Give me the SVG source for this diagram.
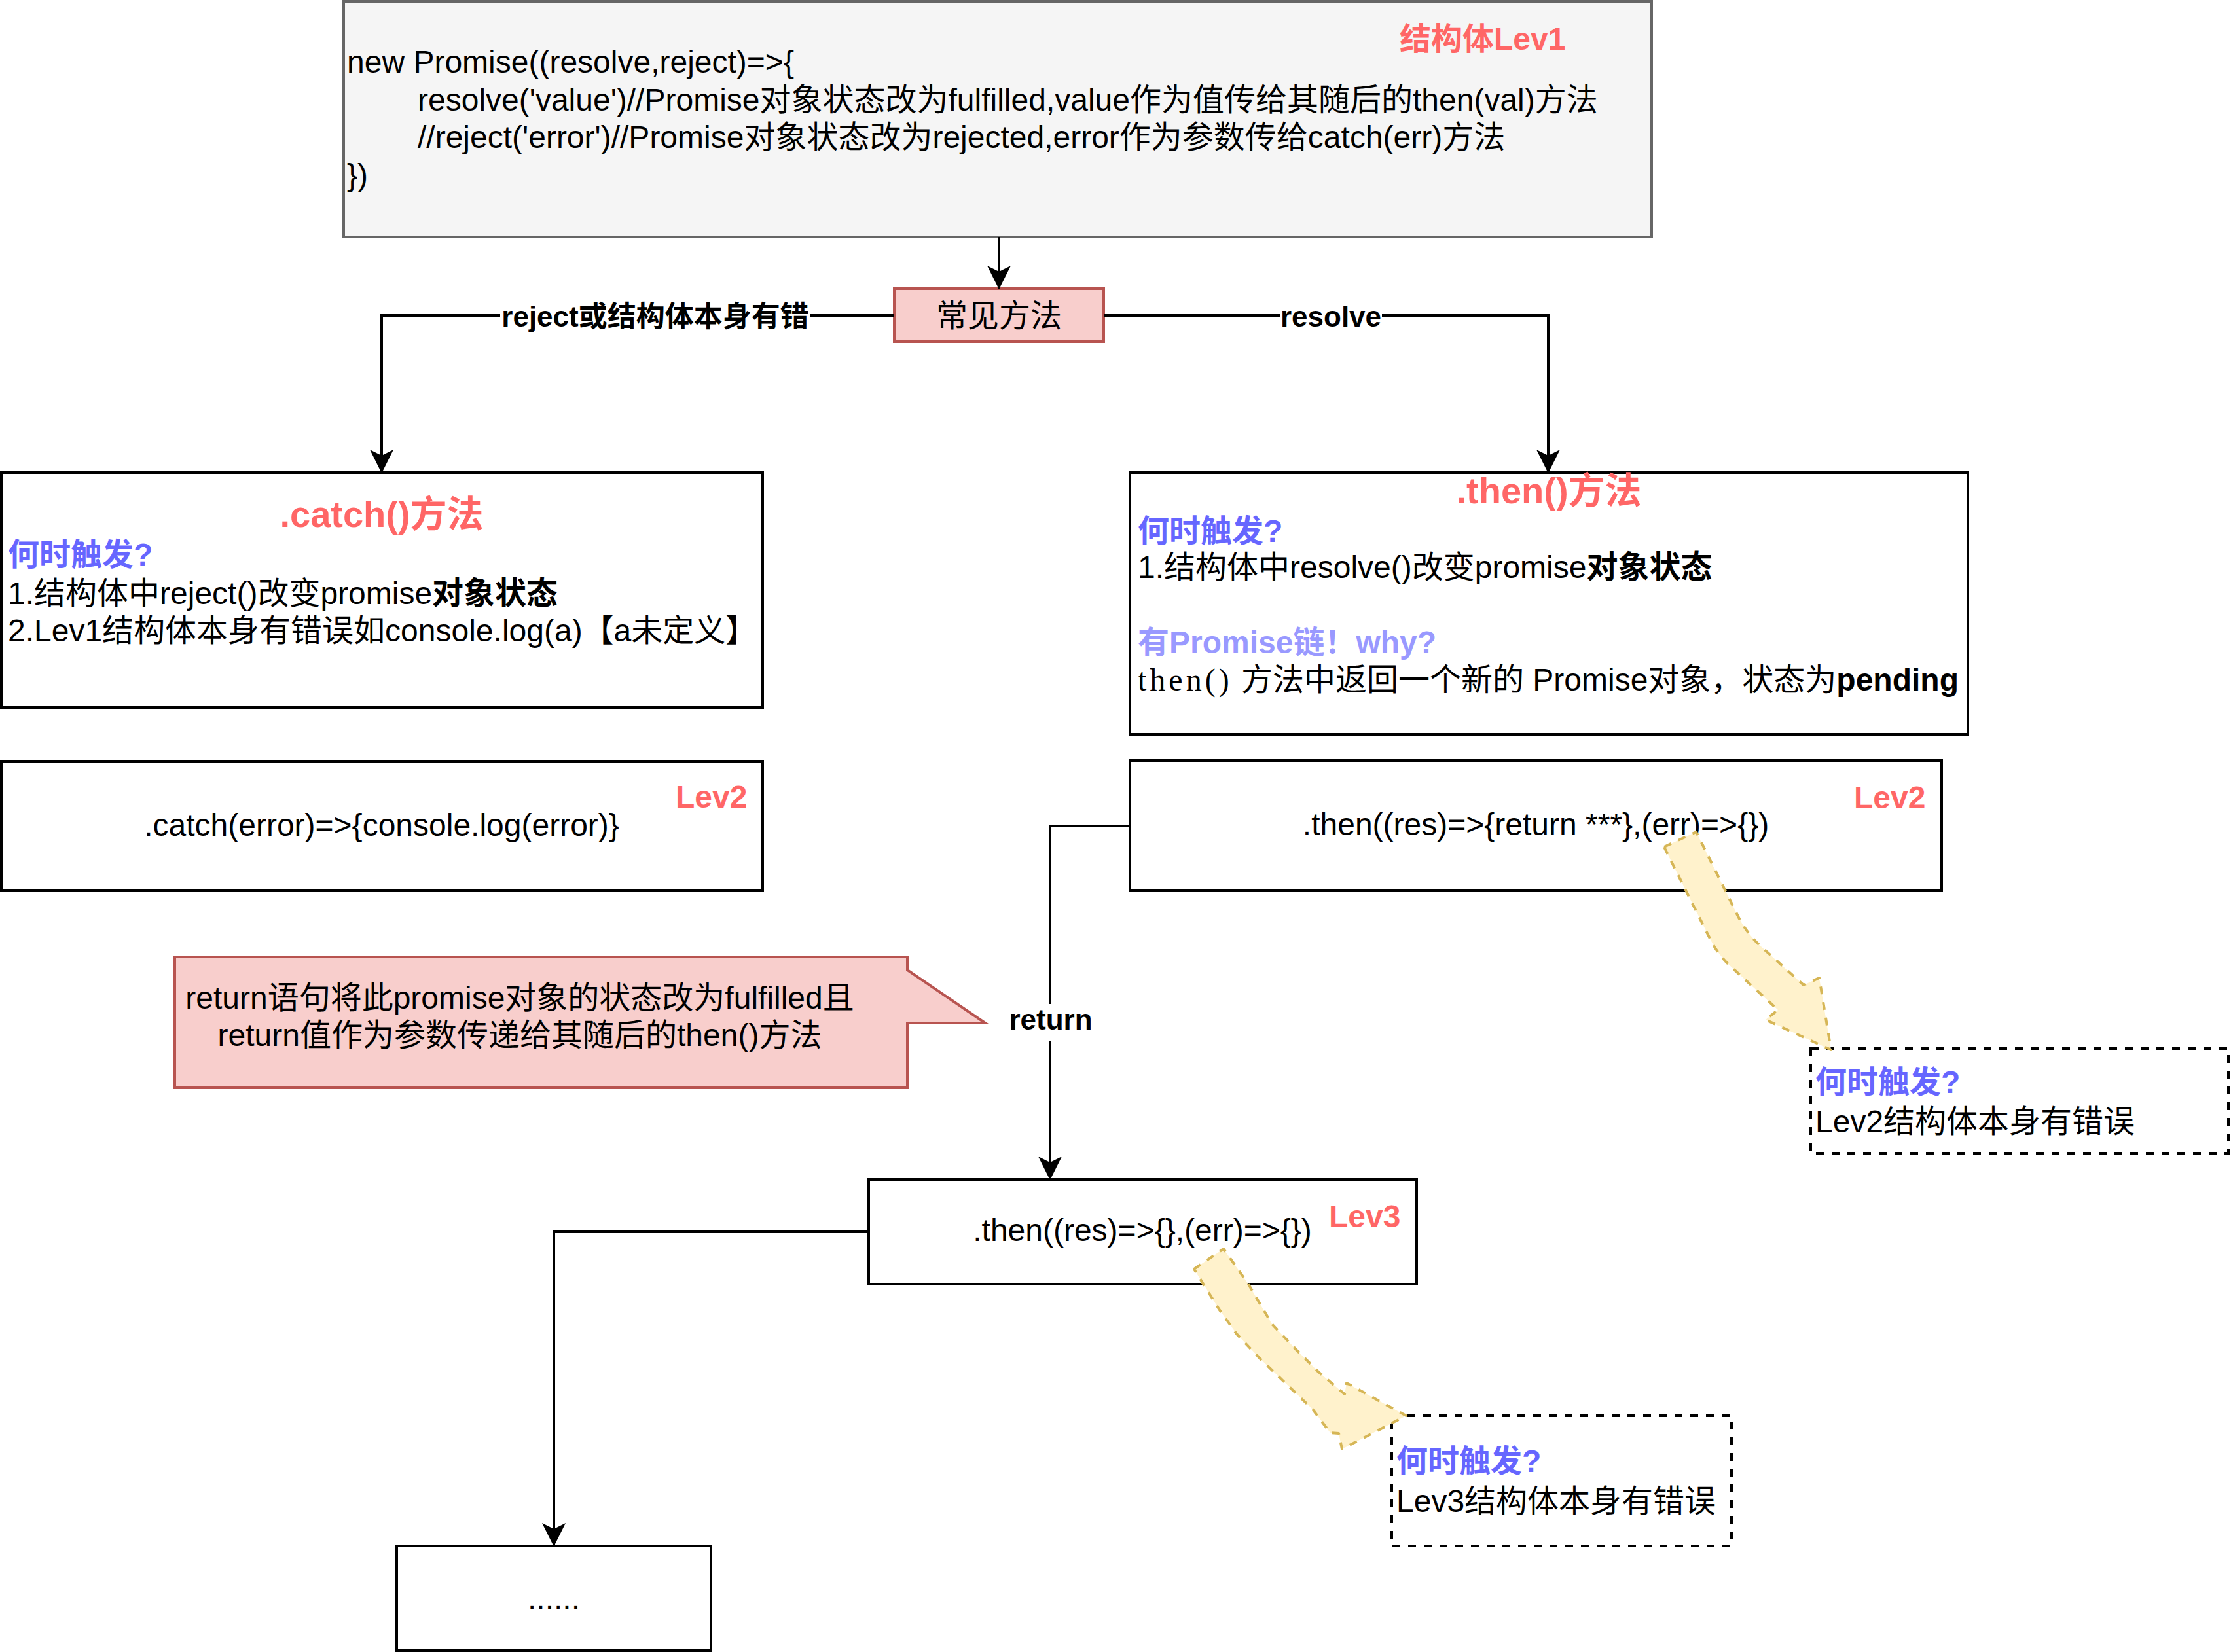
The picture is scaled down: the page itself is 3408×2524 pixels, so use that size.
<svg xmlns="http://www.w3.org/2000/svg" width="3408" height="2524" viewBox="0 0 3408 2524">
<style>
text { font-family: "Liberation Sans", "Noto Sans CJK SC", sans-serif; font-size: 48px; fill: #000; }
.b { font-weight: bold; }
.red { fill: #FF6666; font-weight: bold; }
.blue { fill: #6666FF; font-weight: bold; }
.lav { fill: #9999FF; font-weight: bold; }
.mid { text-anchor: middle; }
.serif { font-family: "Liberation Serif", "Noto Sans CJK SC", serif; letter-spacing: 5px; }
.box { fill: #ffffff; stroke: #000000; stroke-width: 4; }
.dbox { fill: none; stroke: #000000; stroke-width: 4; stroke-dasharray: 12 12; }
.edge { fill: none; stroke: #000000; stroke-width: 4; marker-end: url(#arr); }
.lbl { font-size: 44px; font-weight: bold; text-anchor: middle; }
.flex { fill: #fff2cc; stroke: #d6b656; stroke-width: 4; stroke-dasharray: 12 12; stroke-linejoin: round; }
</style>
<defs>
<marker id="arr" viewBox="0 0 36 36" refX="35" refY="18" markerWidth="36" markerHeight="36" markerUnits="userSpaceOnUse" orient="auto">
<path d="M0,0 L36,18 L0,36 L9,18 Z" fill="#000"/>
</marker>
</defs>
<rect width="3408" height="2524" fill="#ffffff"/>

<g id="node-lev1">
<rect x="525" y="2" width="1998" height="360" fill="#f5f5f5" stroke="#666666" stroke-width="4"/>
<text x="2138" y="76" class="red">结构体Lev1</text>
<text x="530" y="111">new Promise((resolve,reject)=&gt;{</text>
<text x="638" y="168.5">resolve('value')//Promise对象状态改为fulfilled,value作为值传给其随后的then(val)方法</text>
<text x="638" y="226">//reject('error')//Promise对象状态改为rejected,error作为参数传给catch(err)方法</text>
<text x="530" y="284">})</text>
</g>

<g id="node-common">
<rect x="1366" y="441" width="320" height="81" fill="#f8cecc" stroke="#b85450" stroke-width="4"/>
<text x="1526" y="499" class="mid">常见方法</text>
</g>

<g id="node-catch">
<rect x="2" y="722" width="1163" height="359" class="box"/>
<text x="583" y="805" class="red mid" style="font-size:56px">.catch()方法</text>
<text x="12" y="864" class="blue">何时触发?</text>
<text x="12" y="923">1.结构体中reject()改变promise<tspan class="b">对象状态</tspan></text>
<text x="12" y="980">2.Lev1结构体本身有错误如console.log(a)【a未定义】</text>
</g>

<g id="node-then">
<rect x="1726" y="722" width="1280" height="400" class="box"/>
<text x="2366" y="769" class="red mid" style="font-size:56px">.then()方法</text>
<text x="1738" y="828" class="blue">何时触发?</text>
<text x="1738" y="883">1.结构体中resolve()改变promise<tspan class="b">对象状态</tspan></text>
<text x="1738" y="998" class="lav">有Promise链！why?</text>
<text x="1738" y="1055"><tspan class="serif">then()</tspan> 方法中返回一个新的 Promise对象，状态为<tspan class="b">pending</tspan></text>
</g>

<g id="node-catch-lev2">
<rect x="2" y="1163" width="1163" height="198" class="box"/>
<text x="583" y="1277" class="mid">.catch(error)=&gt;{console.log(error)}</text>
<text x="1032" y="1234" class="red">Lev2</text>
</g>

<g id="node-then-lev2">
<rect x="1726" y="1162" width="1240" height="199" class="box"/>
<text x="2346" y="1276" class="mid">.then((res)=&gt;{return ***},(err)=&gt;{})</text>
<text x="2832" y="1235" class="red">Lev2</text>
</g>

<g id="node-callout">
<path d="M267,1462 L1386,1462 L1386,1482 L1505,1563 L1386,1563 L1386,1662 L267,1662 Z" fill="#f8cecc" stroke="#b85450" stroke-width="4"/>
<text x="794" y="1541" class="mid">return语句将此promise对象的状态改为fulfilled且</text>
<text x="794" y="1598" class="mid">return值作为参数传递给其随后的then()方法</text>
</g>

<g id="node-lev3">
<rect x="1327" y="1802" width="837" height="160" class="box"/>
<text x="1745" y="1896" class="mid">.then((res)=&gt;{},(err)=&gt;{})</text>
<text x="2030" y="1875" class="red">Lev3</text>
</g>

<g id="node-more">
<rect x="606" y="2362" width="480" height="160" class="box"/>
<text x="846" y="2458" class="mid">......</text>
</g>

<g id="node-err2">
<rect x="2766" y="1602" width="638" height="160" class="dbox"/>
<text x="2773" y="1670" class="blue">何时触发?</text>
<text x="2773" y="1730">Lev2结构体本身有错误</text>
</g>

<g id="node-err3">
<rect x="2126" y="2163" width="519" height="199" class="dbox"/>
<text x="2133" y="2249" class="blue">何时触发?</text>
<text x="2133" y="2310">Lev3结构体本身有错误</text>
</g>

<g id="connectors">
<path d="M1526,362 L1526,441" class="edge"/>
<path d="M1366,482 L583,482 L583,722" class="edge"/>
<rect x="764" y="456" width="474" height="56" fill="#ffffff"/>
<text x="1001" y="499" class="lbl">reject或结构体本身有错</text>
<path d="M1686,482 L2365,482 L2365,722" class="edge"/>
<rect x="1955" y="456" width="156" height="56" fill="#ffffff"/>
<text x="2033" y="499" class="lbl">resolve</text>
<path d="M1726,1262 L1604,1262 L1604,1802" class="edge"/>
<rect x="1540" y="1534" width="128" height="56" fill="#ffffff"/>
<text x="1605" y="1573" class="lbl">return</text>
<path d="M1327,1882 L846,1882 L846,2362" class="edge"/>
<path class="flex" d="M2542,1294 L2591,1271 L2655,1400 Q2668,1426 2690,1446 L2755,1505 L2779,1494 L2797,1604 L2697,1558 L2716,1543 L2640,1473 Q2622,1455 2612,1434 Z"/>
<path class="flex" d="M1824,1939 L1869,1908 L1907,1962 L1943,2023 L1979,2061 L2014,2096 L2054,2130 L2057,2113 L2148,2163 L2050,2214 L2045,2190 L2032,2189 L2005,2153 L1925,2076 L1889,2038 L1862,2000 Z"/>
</g>
</svg>
